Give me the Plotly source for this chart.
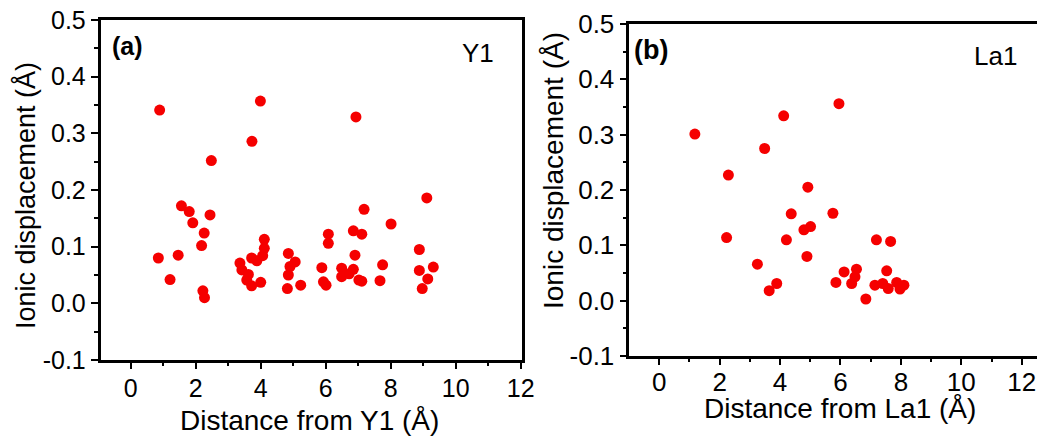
import plotly.graph_objects as go

# ---- data ----
y1_distance = [0.89, 0.85, 1.21, 1.46, 1.56, 1.80, 1.91, 2.26, 2.18, 2.22, 2.27, 2.44, 2.48,
               3.73, 3.99, 4.11, 4.11, 4.06, 3.72, 3.88, 3.36, 3.42, 3.62, 3.57, 3.72, 4.00,
               4.85, 5.06, 4.90, 4.85, 4.82, 5.23, 5.88, 5.93, 6.01, 6.08, 6.08, 6.49, 6.49,
               6.85, 6.85, 7.11, 6.90, 6.93, 7.11, 7.18, 7.67, 7.75, 8.01, 8.88, 8.88, 9.11,
               9.31, 9.14, 8.97, 6.72, 7.02]
y1_displacement = [0.341, 0.080, 0.042, 0.085, 0.172, 0.162, 0.142, 0.124, 0.102, 0.022, 0.010, 0.156, 0.252,
                   0.286, 0.357, 0.113, 0.097, 0.084, 0.080, 0.075, 0.071, 0.059, 0.051, 0.041, 0.031, 0.037,
                   0.088, 0.073, 0.065, 0.050, 0.026, 0.032, 0.063, 0.038, 0.032, 0.122, 0.106, 0.062, 0.047,
                   0.060, 0.128, 0.122, 0.085, 0.329, 0.039, 0.166, 0.040, 0.068, 0.140, 0.095, 0.058, 0.186,
                   0.064, 0.043, 0.026, 0.052, 0.041]

la1_distance = [1.18, 4.12, 5.95, 3.49, 2.29, 4.92, 4.37, 5.75, 4.79, 5.01, 2.23, 4.21, 7.19, 7.66,
                4.89, 3.25, 3.89, 3.64, 6.12, 6.53, 6.48, 6.37, 5.85, 6.84, 7.53, 7.14, 7.40, 7.58,
                7.86, 7.97, 8.10]
la1_displacement = [0.301, 0.334, 0.356, 0.275, 0.227, 0.205, 0.157, 0.158, 0.128, 0.134, 0.114, 0.110, 0.110, 0.107,
                    0.080, 0.066, 0.031, 0.018, 0.052, 0.057, 0.043, 0.031, 0.033, 0.003, 0.054, 0.028, 0.031, 0.022,
                    0.033, 0.021, 0.028]

x_ticks = [0, 2, 4, 6, 8, 10, 12]
y_ticks = [-0.1, 0.0, 0.1, 0.2, 0.3, 0.4, 0.5]
y_tick_labels = ["-0.1", "0.0", "0.1", "0.2", "0.3", "0.4", "0.5"]

OFF = 8  # default page body margin
W, H = 1045 - OFF, 440 - OFF
FONT = "Liberation Sans, Arial, sans-serif"
RED = "#f50000"


def px(x):
    return (x - OFF) / W


def py(y):
    return 1 - (y - OFF) / H


fig = go.Figure()
fig.add_trace(go.Scatter(x=y1_distance, y=y1_displacement, mode="markers",
                         marker=dict(size=11, color=RED), xaxis="x", yaxis="y",
                         showlegend=False))
fig.add_trace(go.Scatter(x=la1_distance, y=la1_displacement, mode="markers",
                         marker=dict(size=11, color=RED), xaxis="x2", yaxis="y2",
                         showlegend=False))


def xax(domain, rng, size, mirror, standoff):
    return dict(domain=domain, range=rng, tickvals=x_ticks, ticks="outside", ticklen=6,
                tickwidth=2, tickcolor="black", showline=True, linecolor="black", linewidth=2.5,
                mirror=mirror, showgrid=False, zeroline=False, automargin=False,
                ticklabeloverflow="allow", ticklabelstandoff=standoff,
                tickfont=dict(family=FONT, size=size, color="black"),
                minor=dict(dtick=1, ticks="outside", ticklen=3, tickwidth=2, tickcolor="black", showgrid=False))


def yax(domain, anchor, size, mirror):
    return dict(domain=domain, range=[-0.1, 0.5], tickvals=y_ticks, ticktext=y_tick_labels,
                anchor=anchor, ticks="outside", ticklen=7, tickwidth=2, tickcolor="black",
                showline=True, linecolor="black", linewidth=2.5, mirror=mirror,
                showgrid=False, zeroline=False, automargin=False, ticklabeloverflow="allow",
                tickfont=dict(family=FONT, size=size, color="black"),
                minor=dict(dtick=0.05, ticks="outside", ticklen=4, tickwidth=2, tickcolor="black", showgrid=False))


fig.update_layout(
    width=W, height=H, margin=dict(l=0, r=0, t=0, b=0, pad=0, autoexpand=False),
    paper_bgcolor="white", plot_bgcolor="white",
    xaxis=xax([px(100.5), px(521.7)], [-0.93, 12.03], 25, True, -2),
    yaxis=yax([py(360), py(20)], "x", 25, True),
    xaxis2=dict(xax([px(629.3), 1.0], [-0.99, 12.77], 26, True, -5), anchor="y2"),
    yaxis2=yax([py(356), py(24)], "x2", 26, False),
)

ann = [
    dict(text="<b>(a)</b>", x=px(110), y=py(46), xanchor="left", yanchor="middle", size=25),
    dict(text="Y1", x=px(478), y=py(53), xanchor="center", yanchor="middle", size=26),
    dict(text="<b>(b)</b>", x=px(632), y=py(50), xanchor="left", yanchor="middle", size=27),
    dict(text="La1", x=px(995), y=py(56), xanchor="center", yanchor="middle", size=26),
    dict(text="Distance from Y1 (Å)", x=px(309), y=py(420), xanchor="center", yanchor="middle", size=28),
    dict(text="Distance from La1 (Å)", x=px(840), y=py(408), xanchor="center", yanchor="middle", size=28),
]
for a in ann:
    fig.add_annotation(text=a["text"], x=a["x"], y=a["y"], xref="paper", yref="paper",
                       xanchor=a["xanchor"], yanchor=a["yanchor"], showarrow=False,
                       font=dict(family=FONT, size=a["size"], color="black"))

fig.add_annotation(text="Ionic displacement (Å)", x=px(26), y=py(196), xref="paper", yref="paper",
                   textangle=-90, showarrow=False, xanchor="center", yanchor="middle",
                   font=dict(family=FONT, size=27, color="black"))
fig.add_annotation(text="Ionic displacement (Å)", x=px(553), y=py(171), xref="paper", yref="paper",
                   textangle=-90, showarrow=False, xanchor="center", yanchor="middle",
                   font=dict(family=FONT, size=28, color="black"))

fig.write_html("out.html")
